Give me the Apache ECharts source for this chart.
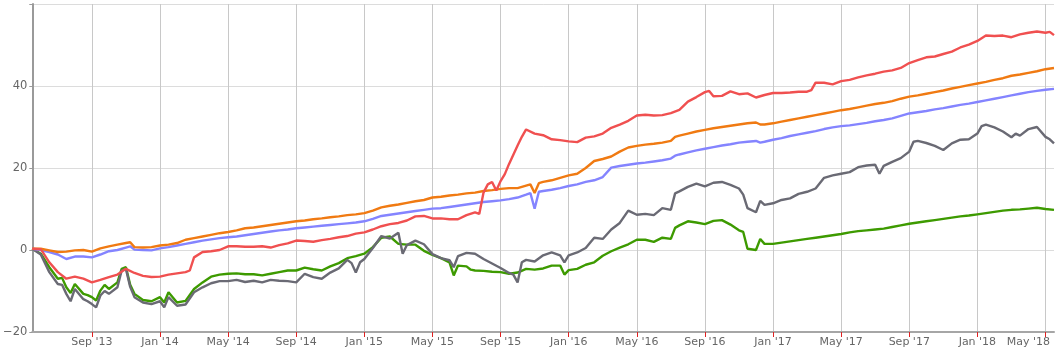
<!DOCTYPE html>
<html>
<head>
<meta charset="utf-8">
<style>
html, body { margin: 0; padding: 0; background: #fff; }
#chart { width: 1061px; height: 353px; }
</style>
</head>
<body>
<div id="chart"></div>
<script src="https://cdn.jsdelivr.net/npm/echarts@6/dist/echarts.min.js"></script>
<script>
// weekly slots (1st, 8th, 15th, 22nd) from May '13 to May '18
var slots = [];
for (var y = 2013; y <= 2018; y++) {
    for (var m = 1; m <= 12; m++) {
        ['01', '08', '15', '22'].forEach(function (d) {
            var s = y + '-' + (m < 10 ? '0' + m : m) + '-' + d;
            if (s >= '2013-05-15' && s <= '2018-05-15') slots.push(s);
        });
    }
}
var monthNames = ['Jan','Feb','Mar','Apr','May','Jun','Jul','Aug','Sep','Oct','Nov','Dec'];
var yTicks = [-20, 0, 20, 40, 60];

var red = [
 ['2013-05-15',0.3],['2013-06-01',0.2],['2013-06-15',-3.0],['2013-07-01',-5.4],['2013-07-15',-7.0],['2013-08-01',-6.5],
 ['2013-08-15',-7.0],['2013-09-01',-7.9],['2013-09-15',-7.3],['2013-10-01',-6.6],['2013-10-15',-6.0],['2013-11-01',-4.6],
 ['2013-11-15',-5.6],['2013-12-01',-6.3],['2013-12-15',-6.6],['2014-01-01',-6.5],['2014-01-15',-6.0],['2014-02-01',-5.7],
 ['2014-02-15',-5.4],['2014-02-22',-5.0],['2014-03-01',-1.8],['2014-03-15',-0.5],['2014-04-01',-0.3],['2014-04-15',0.0],
 ['2014-05-01',0.9],['2014-05-15',0.9],['2014-06-01',0.8],['2014-06-15',0.8],['2014-07-01',0.9],['2014-07-15',0.6],
 ['2014-08-01',1.2],['2014-08-15',1.6],['2014-09-01',2.3],['2014-09-15',2.2],['2014-10-01',2.0],['2014-10-15',2.4],
 ['2014-11-01',2.7],['2014-11-15',3.1],['2014-12-01',3.4],['2014-12-15',4.0],['2015-01-01',4.3],['2015-01-15',5.0],
 ['2015-02-01',5.8],['2015-02-15',6.3],['2015-03-01',6.6],['2015-03-15',7.2],['2015-04-01',8.2],['2015-04-15',8.3],
 ['2015-05-01',7.7],['2015-05-15',7.7],['2015-06-01',7.5],['2015-06-15',7.5],['2015-07-01',8.5],['2015-07-15',9.2],
 ['2015-07-22',8.8],['2015-08-01',14.0],['2015-08-08',16.0],['2015-08-15',16.6],['2015-08-22',14.5],['2015-09-01',16.8],
 ['2015-09-08',18.5],['2015-09-15',21.0],['2015-10-01',25.5],['2015-10-08',27.6],['2015-10-15',29.4],['2015-11-01',28.4],
 ['2015-11-15',28.0],['2015-12-01',27.0],['2015-12-15',26.8],['2016-01-01',26.5],['2016-01-15',26.3],['2016-02-01',27.4],
 ['2016-02-15',27.7],['2016-03-01',28.4],['2016-03-15',29.8],['2016-04-01',30.6],['2016-04-15',31.5],['2016-05-01',32.8],
 ['2016-05-15',33.0],['2016-06-01',32.8],['2016-06-15',32.9],['2016-07-01',33.4],['2016-07-15',34.2],['2016-08-01',36.2],
 ['2016-08-15',37.3],['2016-09-01',38.5],['2016-09-08',38.8],['2016-09-15',37.5],['2016-10-01',37.6],['2016-10-15',38.7],
 ['2016-11-01',38.0],['2016-11-15',38.2],['2016-12-01',37.2],['2016-12-15',37.8],['2017-01-01',38.3],['2017-01-15',38.3],
 ['2017-02-01',38.4],['2017-02-15',38.6],['2017-03-01',38.6],['2017-03-08',39.0],['2017-03-15',40.8],['2017-04-01',40.8],
 ['2017-04-15',40.4],['2017-05-01',41.2],['2017-05-15',41.5],['2017-06-01',42.1],['2017-06-15',42.6],['2017-07-01',43.0],
 ['2017-07-15',43.5],['2017-08-01',43.8],['2017-08-15',44.4],['2017-09-01',45.6],['2017-09-15',46.3],['2017-10-01',47.0],
 ['2017-10-15',47.2],['2017-11-01',47.8],['2017-11-15',48.4],['2017-12-01',49.4],['2017-12-15',50.1],['2018-01-01',51.0],
 ['2018-01-15',52.3],['2018-02-01',52.2],['2018-02-15',52.3],['2018-03-01',51.9],['2018-03-15',52.6],['2018-04-01',53.0],
 ['2018-04-15',53.3],['2018-05-01',53.0],['2018-05-08',53.2],['2018-05-15',52.4]
];

var orange = [
 ['2013-05-15',0.3],['2013-06-01',0.3],['2013-06-15',-0.1],['2013-07-01',-0.5],['2013-07-15',-0.4],['2013-08-01',-0.1],
 ['2013-08-15',0.0],['2013-09-01',-0.4],['2013-09-15',0.4],['2013-10-01',0.9],['2013-10-15',1.3],['2013-11-01',1.7],
 ['2013-11-08',1.9],['2013-11-15',0.7],['2013-12-01',0.6],['2013-12-15',0.7],['2014-01-01',1.1],['2014-01-15',1.3],
 ['2014-02-01',1.7],['2014-02-15',2.5],['2014-03-01',2.9],['2014-03-15',3.3],['2014-04-01',3.7],['2014-04-15',4.1],
 ['2014-05-01',4.4],['2014-05-15',4.8],['2014-06-01',5.3],['2014-06-15',5.5],['2014-07-01',5.8],['2014-07-15',6.1],
 ['2014-08-01',6.4],['2014-08-15',6.7],['2014-09-01',7.0],['2014-09-15',7.2],['2014-10-01',7.5],['2014-10-15',7.7],
 ['2014-11-01',8.0],['2014-11-15',8.2],['2014-12-01',8.5],['2014-12-15',8.7],['2015-01-01',9.0],['2015-01-15',9.6],
 ['2015-02-01',10.4],['2015-02-15',10.8],['2015-03-01',11.1],['2015-03-15',11.5],['2015-04-01',11.9],['2015-04-15',12.2],
 ['2015-05-01',12.8],['2015-05-15',13.0],['2015-06-01',13.3],['2015-06-15',13.5],['2015-07-01',13.8],['2015-07-15',14.0],
 ['2015-08-01',14.4],['2015-08-15',14.6],['2015-09-01',14.9],['2015-09-15',15.1],['2015-10-01',15.1],['2015-10-15',15.7],
 ['2015-10-22',16.0],['2015-11-01',13.9],['2015-11-08',16.3],['2015-11-15',16.6],['2015-12-01',17.0],['2015-12-15',17.6],
 ['2016-01-01',18.2],['2016-01-15',18.6],['2016-02-01',20.0],['2016-02-15',21.7],['2016-03-01',22.2],['2016-03-15',22.8],
 ['2016-04-01',24.0],['2016-04-15',25.0],['2016-05-01',25.4],['2016-05-15',25.7],['2016-06-01',25.9],['2016-06-15',26.2],
 ['2016-07-01',26.6],['2016-07-08',27.6],['2016-07-15',27.9],['2016-08-01',28.4],['2016-08-15',28.9],['2016-09-01',29.3],
 ['2016-09-15',29.7],['2016-10-01',30.0],['2016-10-15',30.3],['2016-11-01',30.6],['2016-11-15',30.9],['2016-12-01',31.1],
 ['2016-12-08',30.6],['2016-12-15',30.6],['2017-01-01',30.9],['2017-01-15',31.3],['2017-02-01',31.7],['2017-02-15',32.1],
 ['2017-03-01',32.5],['2017-03-15',32.9],['2017-04-01',33.3],['2017-04-15',33.7],['2017-05-01',34.1],['2017-05-15',34.4],
 ['2017-06-01',34.8],['2017-06-15',35.2],['2017-07-01',35.6],['2017-07-15',35.9],['2017-08-01',36.3],['2017-08-15',36.9],
 ['2017-09-01',37.4],['2017-09-15',37.7],['2017-10-01',38.1],['2017-10-15',38.5],['2017-11-01',38.9],['2017-11-15',39.4],
 ['2017-12-01',39.8],['2017-12-15',40.2],['2018-01-01',40.6],['2018-01-15',41.0],['2018-02-01',41.5],['2018-02-15',41.9],
 ['2018-03-01',42.5],['2018-03-15',42.8],['2018-04-01',43.2],['2018-04-15',43.6],['2018-05-01',44.1],['2018-05-15',44.4]
];

var blue = [
 ['2013-05-15',0.3],['2013-06-01',0.0],['2013-06-15',-0.5],['2013-07-01',-1.1],['2013-07-15',-2.2],['2013-08-01',-1.6],
 ['2013-08-15',-1.6],['2013-09-01',-1.8],['2013-09-15',-1.1],['2013-10-01',-0.3],['2013-10-15',0.0],['2013-11-01',0.6],
 ['2013-11-08',0.9],['2013-11-15',0.1],['2013-12-01',0.0],['2013-12-15',-0.1],['2014-01-01',0.4],['2014-01-15',0.7],
 ['2014-02-01',1.1],['2014-02-15',1.5],['2014-03-01',1.9],['2014-03-15',2.3],['2014-04-01',2.6],['2014-04-15',2.9],
 ['2014-05-01',3.1],['2014-05-15',3.3],['2014-06-01',3.6],['2014-06-15',3.9],['2014-07-01',4.2],['2014-07-15',4.5],
 ['2014-08-01',4.8],['2014-08-15',5.0],['2014-09-01',5.3],['2014-09-15',5.5],['2014-10-01',5.7],['2014-10-15',5.9],
 ['2014-11-01',6.1],['2014-11-15',6.3],['2014-12-01',6.5],['2014-12-15',6.7],['2015-01-01',7.0],['2015-01-15',7.6],
 ['2015-02-01',8.3],['2015-02-15',8.6],['2015-03-01',8.9],['2015-03-15',9.2],['2015-04-01',9.5],['2015-04-15',9.8],
 ['2015-05-01',10.1],['2015-05-15',10.2],['2015-06-01',10.5],['2015-06-15',10.8],['2015-07-01',11.1],['2015-07-15',11.4],
 ['2015-08-01',11.7],['2015-08-15',11.9],['2015-09-01',12.1],['2015-09-15',12.4],['2015-10-01',12.8],['2015-10-15',13.5],
 ['2015-10-22',13.9],['2015-11-01',10.1],['2015-11-08',14.2],['2015-11-15',14.4],['2015-12-01',14.7],['2015-12-15',15.1],
 ['2016-01-01',15.6],['2016-01-15',16.0],['2016-02-01',16.6],['2016-02-15',17.0],['2016-03-01',17.8],['2016-03-15',20.1],
 ['2016-04-01',20.5],['2016-04-15',20.8],['2016-05-01',21.1],['2016-05-15',21.3],['2016-06-01',21.6],['2016-06-15',21.9],
 ['2016-07-01',22.3],['2016-07-08',23.0],['2016-07-15',23.3],['2016-08-01',23.8],['2016-08-15',24.3],['2016-09-01',24.7],
 ['2016-09-15',25.1],['2016-10-01',25.5],['2016-10-15',25.8],['2016-11-01',26.2],['2016-11-15',26.4],['2016-12-01',26.6],
 ['2016-12-08',26.2],['2016-12-15',26.4],['2017-01-01',26.9],['2017-01-15',27.3],['2017-02-01',27.8],['2017-02-15',28.2],
 ['2017-03-01',28.6],['2017-03-15',29.0],['2017-04-01',29.5],['2017-04-15',29.9],['2017-05-01',30.2],['2017-05-15',30.4],
 ['2017-06-01',30.7],['2017-06-15',31.0],['2017-07-01',31.4],['2017-07-15',31.7],['2017-08-01',32.1],['2017-08-15',32.7],
 ['2017-09-01',33.3],['2017-09-15',33.6],['2017-10-01',33.9],['2017-10-15',34.3],['2017-11-01',34.6],['2017-11-15',35.0],
 ['2017-12-01',35.4],['2017-12-15',35.7],['2018-01-01',36.1],['2018-01-15',36.5],['2018-02-01',36.9],['2018-02-15',37.3],
 ['2018-03-01',37.7],['2018-03-15',38.1],['2018-04-01',38.5],['2018-04-15',38.8],['2018-05-01',39.1],['2018-05-15',39.3]
];

var gray = [
 ['2013-05-15',0.3],['2013-06-01',-1.1],['2013-06-15',-5.4],['2013-07-01',-8.3],['2013-07-08',-8.5],['2013-07-15',-10.7],
 ['2013-07-22',-12.5],['2013-08-01',-9.5],['2013-08-15',-12.0],['2013-08-22',-12.5],['2013-09-01',-13.2],['2013-09-08',-14.0],
 ['2013-09-15',-11.1],['2013-09-22',-10.0],['2013-10-01',-10.7],['2013-10-15',-9.1],['2013-10-22',-5.0],['2013-11-01',-4.6],
 ['2013-11-08',-9.0],['2013-11-15',-11.5],['2013-12-01',-12.8],['2013-12-15',-13.2],['2014-01-01',-12.5],['2014-01-08',-14.0],
 ['2014-01-15',-11.5],['2014-02-01',-13.6],['2014-02-15',-13.3],['2014-03-01',-10.3],['2014-03-15',-9.1],['2014-04-01',-8.1],
 ['2014-04-15',-7.6],['2014-05-01',-7.6],['2014-05-15',-7.3],['2014-06-01',-7.8],['2014-06-15',-7.5],['2014-07-01',-7.9],
 ['2014-07-15',-7.3],['2014-08-01',-7.5],['2014-08-15',-7.6],['2014-09-01',-7.9],['2014-09-15',-5.8],['2014-10-01',-6.6],
 ['2014-10-15',-7.0],['2014-11-01',-5.5],['2014-11-15',-4.5],['2014-12-01',-2.4],['2014-12-08',-3.2],['2014-12-15',-5.5],
 ['2014-12-22',-3.0],['2015-01-01',-2.2],['2015-01-15',0.5],['2015-02-01',3.4],['2015-02-15',2.8],['2015-03-01',4.2],
 ['2015-03-08',-0.9],['2015-03-15',1.2],['2015-04-01',2.3],['2015-04-15',1.4],['2015-05-01',-1.0],['2015-05-15',-2.0],
 ['2015-06-01',-2.5],['2015-06-08',-4.2],['2015-06-15',-1.5],['2015-07-01',-0.7],['2015-07-15',-0.9],['2015-08-01',-2.2],
 ['2015-08-15',-3.3],['2015-09-01',-4.4],['2015-09-15',-5.6],['2015-09-22',-6.0],['2015-10-01',-7.9],['2015-10-08',-3.0],
 ['2015-10-15',-2.4],['2015-11-01',-2.8],['2015-11-15',-1.3],['2015-12-01',-0.6],['2015-12-15',-1.3],['2015-12-22',-3.0],
 ['2016-01-01',-1.3],['2016-01-15',-0.6],['2016-02-01',0.5],['2016-02-15',3.0],['2016-03-01',2.7],['2016-03-15',5.0],
 ['2016-04-01',6.6],['2016-04-15',9.6],['2016-05-01',8.6],['2016-05-15',8.8],['2016-06-01',8.5],['2016-06-15',10.2],
 ['2016-07-01',9.8],['2016-07-08',13.8],['2016-07-15',14.3],['2016-08-01',15.4],['2016-08-15',16.2],['2016-09-01',15.5],
 ['2016-09-15',16.4],['2016-10-01',16.6],['2016-10-15',15.9],['2016-11-01',15.0],['2016-11-08',13.5],['2016-11-15',10.2],
 ['2016-12-01',9.2],['2016-12-08',12.0],['2016-12-15',11.0],['2017-01-01',11.4],['2017-01-15',12.2],['2017-02-01',12.6],
 ['2017-02-15',13.7],['2017-03-01',14.2],['2017-03-15',15.0],['2017-04-01',17.6],['2017-04-15',18.2],['2017-05-01',18.6],
 ['2017-05-15',19.0],['2017-06-01',20.2],['2017-06-15',20.6],['2017-07-01',20.8],['2017-07-08',18.6],['2017-07-15',20.5],
 ['2017-08-01',21.5],['2017-08-15',22.4],['2017-09-01',24.0],['2017-09-08',26.4],['2017-09-15',26.6],['2017-10-01',26.1],
 ['2017-10-15',25.4],['2017-11-01',24.4],['2017-11-15',26.0],['2017-12-01',26.9],['2017-12-15',27.0],['2018-01-01',28.4],
 ['2018-01-08',30.2],['2018-01-15',30.6],['2018-02-01',29.9],['2018-02-15',28.9],['2018-03-01',27.5],['2018-03-08',28.4],
 ['2018-03-15',27.9],['2018-04-01',29.5],['2018-04-15',30.0],['2018-05-01',27.6],['2018-05-08',27.0],['2018-05-15',26.0]
];

var green = [
 ['2013-05-15',0.3],['2013-06-01',-0.9],['2013-06-15',-4.2],['2013-07-01',-7.0],['2013-07-08',-6.8],['2013-07-15',-9.1],
 ['2013-07-22',-10.5],['2013-08-01',-8.3],['2013-08-15',-10.7],['2013-08-22',-11.0],['2013-09-01',-11.5],['2013-09-08',-12.3],
 ['2013-09-15',-9.9],['2013-09-22',-8.5],['2013-10-01',-9.5],['2013-10-15',-7.9],['2013-10-22',-4.6],['2013-11-01',-4.2],
 ['2013-11-08',-8.5],['2013-11-15',-10.7],['2013-12-01',-12.2],['2013-12-15',-12.5],['2014-01-01',-11.5],['2014-01-08',-12.8],
 ['2014-01-15',-10.3],['2014-02-01',-12.8],['2014-02-15',-12.4],['2014-03-01',-9.5],['2014-03-15',-7.9],['2014-04-01',-6.5],
 ['2014-04-15',-6.0],['2014-05-01',-5.8],['2014-05-15',-5.7],['2014-06-01',-5.9],['2014-06-15',-5.9],['2014-07-01',-6.2],
 ['2014-07-15',-5.8],['2014-08-01',-5.4],['2014-08-15',-5.0],['2014-09-01',-5.0],['2014-09-15',-4.3],['2014-10-01',-4.7],
 ['2014-10-15',-5.0],['2014-11-01',-4.0],['2014-11-15',-3.2],['2014-12-01',-2.0],['2014-12-15',-1.5],['2015-01-01',-0.9],
 ['2015-01-15',0.7],['2015-02-01',3.0],['2015-02-15',3.3],['2015-03-01',1.5],['2015-03-15',1.3],['2015-04-01',1.3],
 ['2015-04-15',-0.2],['2015-05-01',-1.2],['2015-05-15',-2.0],['2015-06-01',-3.0],['2015-06-08',-6.2],['2015-06-15',-3.8],
 ['2015-07-01',-4.0],['2015-07-08',-4.8],['2015-07-15',-5.0],['2015-08-01',-5.1],['2015-08-15',-5.3],['2015-09-01',-5.4],
 ['2015-09-15',-5.8],['2015-10-01',-5.5],['2015-10-15',-4.6],['2015-11-01',-4.8],['2015-11-15',-4.5],['2015-12-01',-3.8],
 ['2015-12-15',-3.8],['2015-12-22',-6.0],['2016-01-01',-4.9],['2016-01-15',-4.6],['2016-02-01',-3.6],['2016-02-15',-3.0],
 ['2016-03-01',-1.4],['2016-03-15',-0.3],['2016-04-01',0.6],['2016-04-15',1.4],['2016-05-01',2.5],['2016-05-15',2.5],
 ['2016-06-01',2.0],['2016-06-15',3.0],['2016-07-01',2.7],['2016-07-08',5.4],['2016-07-15',6.0],['2016-08-01',7.0],
 ['2016-08-15',6.7],['2016-09-01',6.3],['2016-09-15',7.1],['2016-10-01',7.3],['2016-10-15',6.2],['2016-11-01',4.8],
 ['2016-11-08',4.4],['2016-11-15',0.3],['2016-12-01',0.0],['2016-12-08',2.7],['2016-12-15',1.5],['2017-01-01',1.5],
 ['2017-01-15',1.8],['2017-02-01',2.1],['2017-02-15',2.4],['2017-03-01',2.7],['2017-03-15',3.0],['2017-04-01',3.3],
 ['2017-04-15',3.6],['2017-05-01',3.9],['2017-05-15',4.3],['2017-06-01',4.6],['2017-06-15',4.8],['2017-07-01',5.0],
 ['2017-07-15',5.2],['2017-08-01',5.6],['2017-08-15',6.0],['2017-09-01',6.4],['2017-09-15',6.7],['2017-10-01',7.0],
 ['2017-10-15',7.3],['2017-11-01',7.6],['2017-11-15',7.9],['2017-12-01',8.2],['2017-12-15',8.4],['2018-01-01',8.7],
 ['2018-01-15',9.0],['2018-02-01',9.3],['2018-02-15',9.6],['2018-03-01',9.8],['2018-03-15',9.9],['2018-04-01',10.1],
 ['2018-04-15',10.3],['2018-05-01',10.0],['2018-05-15',9.8]
];

function isTick(d) {
    var p = d.split('-');
    return p[2] === '01' && (p[1] === '01' || p[1] === '05' || p[1] === '09');
}

function line(name, data, color) {
    return {
        name: name, type: 'line', data: data,
        showSymbol: false, symbol: 'none',
        lineStyle: { color: color, width: 2.4 },
        itemStyle: { color: color },
        emphasis: { disabled: true }
    };
}

var myChart = echarts.init(document.getElementById('chart'));
myChart.setOption({
    animation: false,
    textStyle: { fontFamily: 'DejaVu Sans' },
    grid: { left: 32, right: 7, top: 4, bottom: 21 },
    xAxis: {
        type: 'category',
        data: slots,
        boundaryGap: false,
        axisLine: { onZero: false, lineStyle: { color: '#a6a6a6', width: 2 } },
        axisTick: { interval: function (i, v) { return isTick(v); }, length: 5, lineStyle: { color: '#e02020' } },
        axisLabel: {
            interval: function (i, v) { return isTick(v); },
            margin: 5,
            color: '#666',
            fontSize: 11,
            formatter: function (v) {
                var p = v.split('-');
                var t = monthNames[+p[1] - 1] + " '" + p[0].slice(2);
                return v === '2018-05-01' ? '{end|' + t + '}' : t;
            },
            rich: { end: { padding: [0, 34, 0, 0], color: '#666', fontSize: 11 } }
        },
        splitLine: { show: true, interval: function (i, v) { return isTick(v); }, lineStyle: { color: '#c8c8c8', width: 1 } }
    },
    yAxis: {
        type: 'value',
        min: yTicks[0], max: yTicks[yTicks.length - 1], interval: 20,
        axisLine: { show: true, lineStyle: { color: '#9a9a9a', width: 2 } },
        axisTick: { show: true, length: 3, lineStyle: { color: '#9a9a9a' } },
        axisLabel: {
            margin: 5,
            color: '#666',
            fontSize: 11.5,
            padding: [0, 0, 9, 0],
            formatter: function (v) { return v === 60 ? '' : String(v).replace('-', '\u2212'); }
        },
        splitLine: { lineStyle: { color: '#dcdcdc', width: 1 } }
    },
    series: [
        line('green', green, '#3d9a00'),
        line('gray', gray, '#6a6a74'),
        line('blue', blue, '#8484ff'),
        line('orange', orange, '#f07a12'),
        line('red', red, '#f05050')
    ]
});
</script>
</body>
</html>
